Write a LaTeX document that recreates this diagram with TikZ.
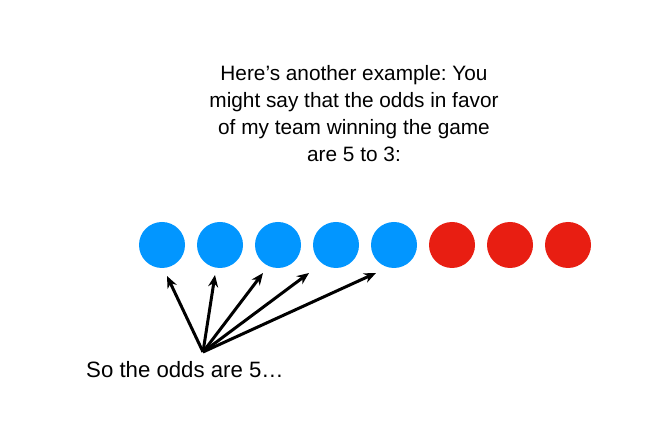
\documentclass[tikz,border=0pt]{standalone}
\usepackage{fontspec}
\setmainfont{Liberation Sans}
\usetikzlibrary{arrows.meta}
\definecolor{ballblue}{RGB}{2,150,255}
\definecolor{ballred}{RGB}{232,30,18}
\frenchspacing
\begin{document}
\begin{tikzpicture}[x=1pt,y=1pt,
  ball/.style={circle,minimum size=46pt,inner sep=0pt},
  blueball/.style={ball,fill=ballblue},
  redball/.style={ball,fill=ballred},
  pointer/.style={line width=3pt,-{Stealth[length=12pt,width=10pt]}},
  label/.style={font=\fontsize{20.8}{27}\selectfont,inner sep=0pt}]
\useasboundingbox (0,0) rectangle (664,423);
\fill[white] (0,0) rectangle (664,423);
\node[label,align=center,anchor=north] (title) at (354,358)
  {Here’s another example: You\\might say that the odds in favor\\of my team winning the game\\are 5 to 3:};
\foreach \i/\s in {1/blueball,2/blueball,3/blueball,4/blueball,5/blueball,6/redball,7/redball,8/redball}{
  \node[\s] (b\i) at ({162+58*(\i-1)},178) {};
}
\coordinate (o) at (203,71);
\coordinate (t1) at (167,147);
\coordinate (t2) at (215,148);
\coordinate (t3) at (263,150);
\coordinate (t4) at (309,150);
\coordinate (t5) at (376,150);
\foreach \i in {1,...,5}{ \draw[pointer] (o) -- (t\i); }
\node[label,font=\fontsize{22.2}{27}\selectfont,anchor=base west] (so) at (86,45) {So the odds are 5…};
\end{tikzpicture}
\end{document}
